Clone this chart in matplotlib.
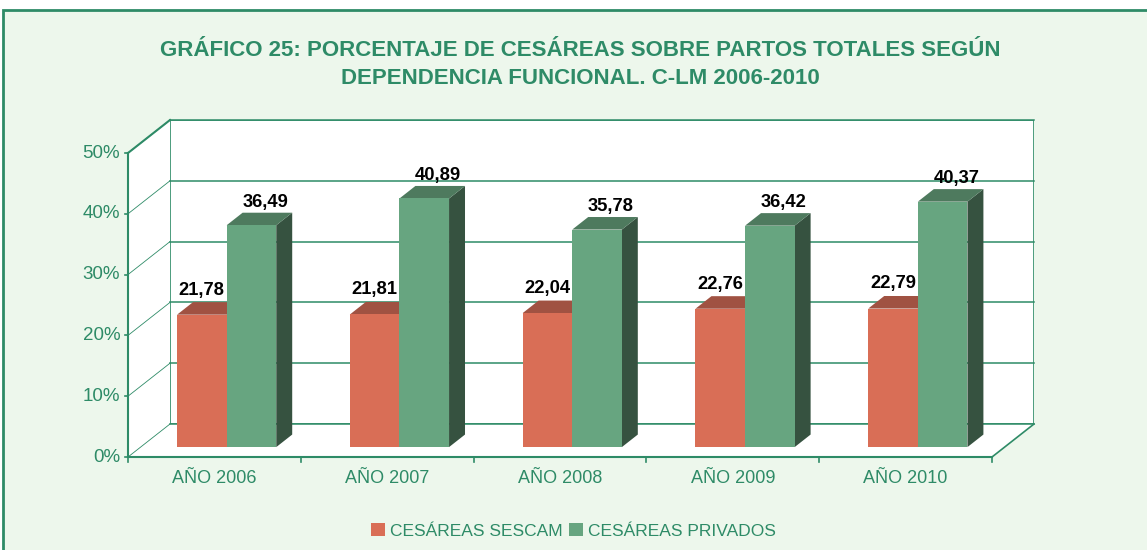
import matplotlib.pyplot as plt
from matplotlib.patches import Polygon, Rectangle, Patch

plt.rcParams['font.family'] = ['Liberation Sans', 'DejaVu Sans']

# Data
categories = ['AÑO 2006', 'AÑO 2007', 'AÑO 2008', 'AÑO 2009', 'AÑO 2010']
sescam = [21.78, 21.81, 22.04, 22.76, 22.79]
privados = [36.49, 40.89, 35.78, 36.42, 40.37]
series_names = ['CESÁREAS SESCAM', 'CESÁREAS PRIVADOS']
yticks = [0, 10, 20, 30, 40, 50]

# Style
TEAL = '#2E8B67'
BG = '#EDF7EC'
RED = ('#D96E56', '#A05242', '#8A4535')    # front, top, side
GREEN = ('#67A580', '#4E7A5E', '#365240')

W, H = 1147, 550
fig = plt.figure(figsize=(W / 100, H / 100), dpi=100, facecolor='white')

# outer panel with border
fig.patches.append(Rectangle((3 / W, -0.05), 1.1, (H - 10) / H + 0.05,
                             transform=fig.transFigure, facecolor=BG,
                             edgecolor=TEAL, lw=2, zorder=-5))

# fake 3D depth offsets (in data units)
PX_CAT = 172.8
PX_PCT = 6.08
DX = 42 / PX_CAT
DY = 33 / PX_PCT
ncat = len(categories)
ymax = 50

left_px, right_px = 128, 128 + (ncat + DX) * PX_CAT
bot_px, top_px = 457, 457 - (ymax + DY) * PX_PCT
ax = fig.add_axes([left_px / W, (H - bot_px) / H,
                   (right_px - left_px) / W, (bot_px - top_px) / H])
ax.set_zorder(1)
ax.set_xlim(0, ncat + DX)
ax.set_ylim(0, ymax + DY)
ax.axis('off')

# walls
ax.add_patch(Polygon([(DX, DY), (ncat + DX, DY), (ncat + DX, ymax + DY), (DX, ymax + DY)],
                     closed=True, facecolor='white', edgecolor=TEAL, lw=1.2, zorder=1))
ax.add_patch(Polygon([(0, 0), (DX, DY), (DX, ymax + DY), (0, ymax)],
                     closed=True, facecolor='white', edgecolor='none', zorder=1))
ax.add_patch(Polygon([(0, 0), (ncat, 0), (ncat + DX, DY), (DX, DY)],
                     closed=True, facecolor='white', edgecolor='none', zorder=1))

for t in yticks:
    ax.plot([DX, ncat + DX], [t + DY, t + DY], color=TEAL, lw=1.1, zorder=2, clip_on=False)
    ax.plot([0, DX], [t, t + DY], color=TEAL, lw=0.6, zorder=2, clip_on=False)
    ax.plot([-0.02, 0], [t, t], color=TEAL, lw=1.2, zorder=2, clip_on=False)
    ax.text(-0.045, t, f'{t}%', ha='right', va='center', fontsize=13.5, color=TEAL)

# axis lines
ax.plot([0, 0], [0, ymax], color=TEAL, lw=1.5, zorder=2, clip_on=False)
ax.plot([0, ncat], [0, 0], color=TEAL, lw=1.5, zorder=2, clip_on=False)
ax.plot([ncat, ncat + DX], [0, DY], color=TEAL, lw=1.2, zorder=2, clip_on=False)
ax.plot([0, DX], [ymax, ymax + DY], color=TEAL, lw=1.5, zorder=2, clip_on=False)
for i in range(ncat + 1):
    ax.plot([i, i], [0, -0.9], color=TEAL, lw=1.2, clip_on=False)
for i, c in enumerate(categories):
    ax.text(i + 0.5, -3.5, c, ha='center', va='center', fontsize=13, color=TEAL)

# bars
F, B = 0.3, 0.68
bw = 0.287
x0 = 0.211


def bar3d(xs, vals, cols, z):
    ax.bar([x + F * DX for x in xs], vals, width=bw, bottom=F * DY, align='edge',
           color=cols[0], edgecolor='none', zorder=z + 2)
    for x, v in zip(xs, vals):
        xf, xb = x + F * DX, x + B * DX
        yf, yb = F * DY, B * DY
        ax.add_patch(Polygon([(xf + bw, yf), (xb + bw, yb), (xb + bw, yb + v), (xf + bw, yf + v)],
                             closed=True, facecolor=cols[2], edgecolor='none', zorder=z))
        ax.add_patch(Polygon([(xf, yf + v), (xf + bw, yf + v), (xb + bw, yb + v), (xb, yb + v)],
                             closed=True, facecolor=cols[1], edgecolor='none', zorder=z + 1))


xs_red = [i + x0 for i in range(ncat)]
xs_green = [i + x0 + bw for i in range(ncat)]
bar3d(xs_red, sescam, RED, 3)
bar3d(xs_green, privados, GREEN, 6)

for x, v in zip(xs_red, sescam):
    ax.text(x + F * DX + bw / 2, F * DY + v + 3.3, f'{v:.2f}'.replace('.', ','),
            ha='center', va='baseline', fontsize=13.2, fontweight='bold', color='black', zorder=10)
for x, v in zip(xs_green, privados):
    ax.text(x + F * DX + bw / 2 + 0.08, F * DY + v + 3.0, f'{v:.2f}'.replace('.', ','),
            ha='center', va='baseline', fontsize=13.2, fontweight='bold', color='black', zorder=10)

fig.text(580 / W, 1 - 50 / H, 'GRÁFICO 25: PORCENTAJE DE CESÁREAS SOBRE PARTOS TOTALES SEGÚN',
         ha='center', va='center', fontsize=16, fontweight='bold', color=TEAL)
fig.text(580 / W, 1 - 79 / H, 'DEPENDENCIA FUNCIONAL. C-LM 2006-2010',
         ha='center', va='center', fontsize=16, fontweight='bold', color=TEAL)

handles = [Patch(facecolor=RED[0]), Patch(facecolor=GREEN[0])]
fig.legend(handles, series_names, loc='center', bbox_to_anchor=(0.5, 1 - 531 / H),
           ncol=2, frameon=False, fontsize=12.5, labelcolor=TEAL,
           handlelength=0.8, handleheight=0.8, handletextpad=0.3, columnspacing=0.4)

fig.savefig('out.png', dpi=100, facecolor=fig.get_facecolor())
